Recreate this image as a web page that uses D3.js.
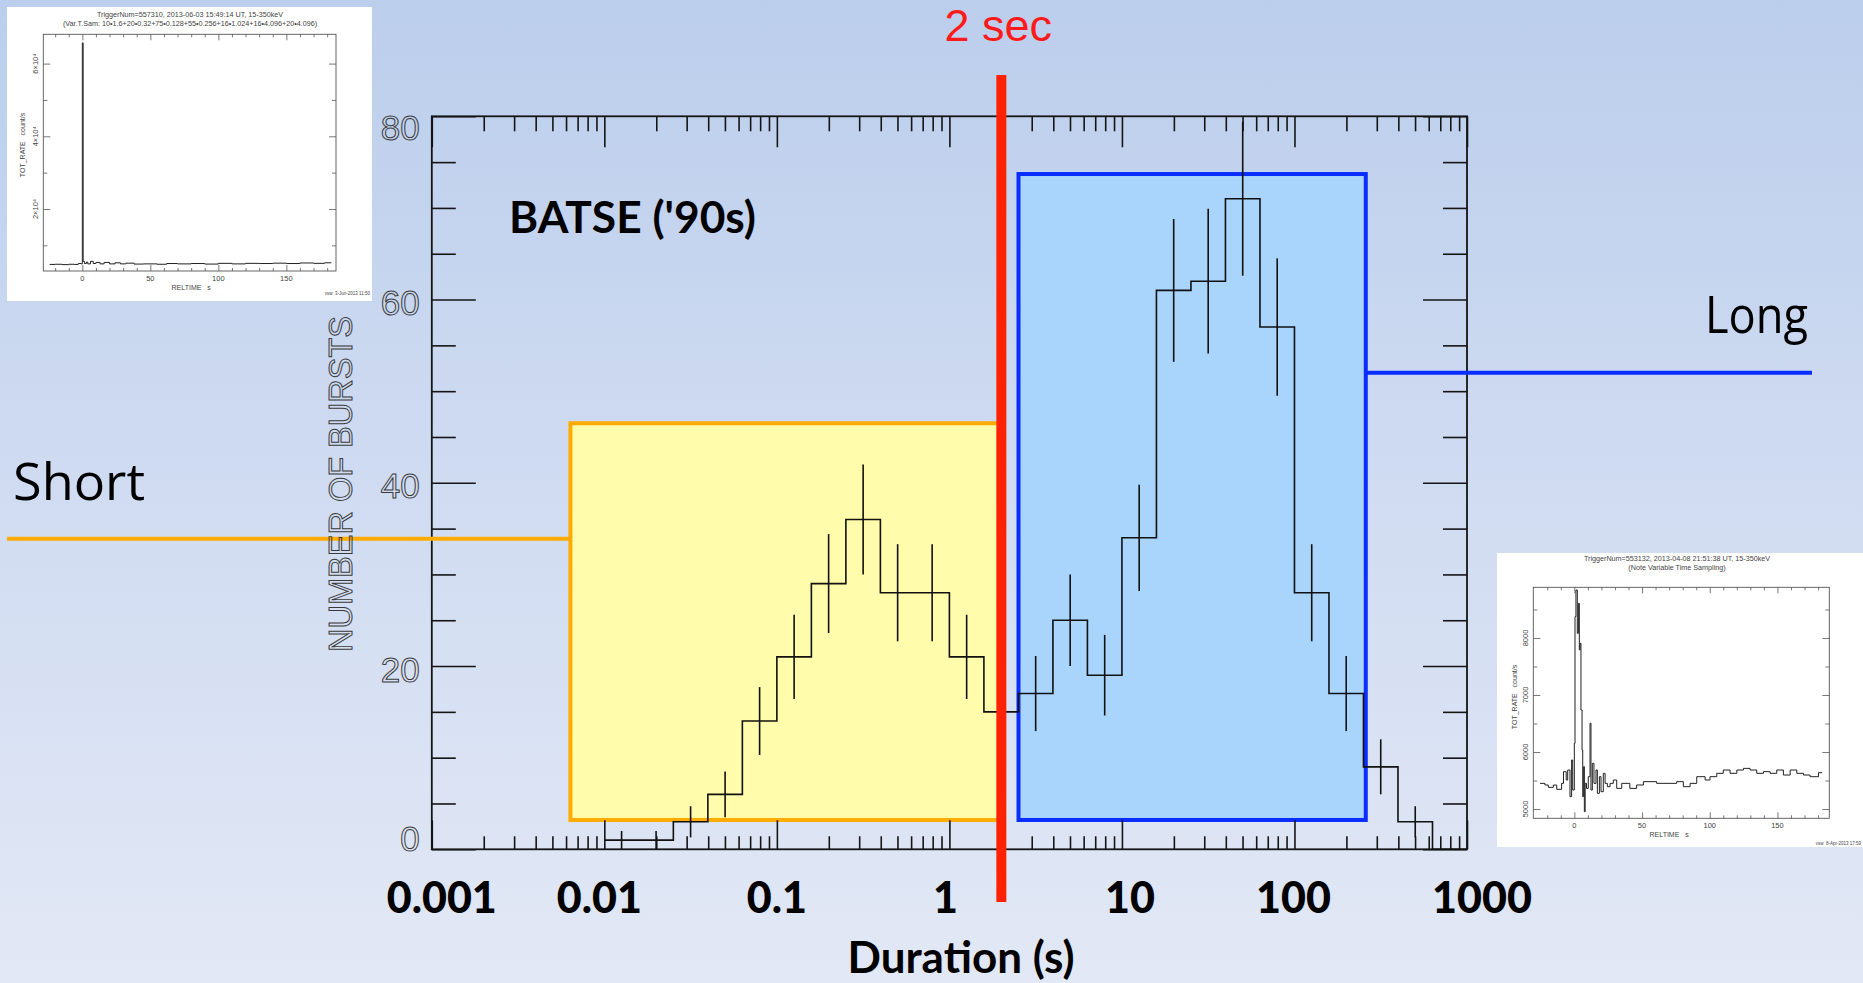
<!DOCTYPE html>
<html><head><meta charset="utf-8">
<script src="https://cdn.jsdelivr.net/npm/d3@7"></script>
<style>html,body{margin:0;padding:0;overflow:hidden;background:#d0dcf1}</style>
</head><body>
<svg id="c" width="1863" height="983"></svg>
<script>
// ================= DATA =================
// BATSE duration histogram: bins of 0.2 in log10(duration [s])
const binLeftLog = [-2.0,-1.8,-1.6,-1.4,-1.2,-1.0,-0.8,-0.6,-0.4,-0.2,0.0,0.2,0.4,0.6,0.8,1.0,1.2,1.4,1.6,1.8,2.0,2.2,2.4,2.6,2.8];
const burstCounts = [1,1,3,6,14,21,29,36,28,28,21,15,17,25,19,34,61,62,71,57,28,17,9,3,0];
const countErrors = [1,1,1.7,2.5,3.7,4.6,5.4,6,5.3,5.3,4.6,3.9,4.1,5,4.4,5.8,7.8,7.9,8.4,7.5,5.3,4.1,3,1.7,0];
const binWidthLog = 0.2;

const xTickValues = [0.001,0.01,0.1,1,10,100,1000];
const xTickLabels = ["0.001","0.01","0.1","1","10","100","1000"];
const yTickValues = [0,20,40,60,80];
const yTickLabels = ["0","20","40","60","80"];

const dividerSeconds = 2;
const shortRange = [0.00636, 2];      // seconds
const shortCountRange = [3.2, 46.5];
const shortLinkLevel = 33.9;
const longRange = [2.515, 259];
const longCountRange = [3.2, 73.7];
const longLinkLevel = 52.0;

// inset 1 light curve (short burst)
const inset1Time = [-24,-20,-15,-10,-6,-3,-1,0,0.6,1.5,3,4,6,8,10,13,16,20,24,28,32,38,45,55,62,70,80,90,100,110,120,130,140,150,160,170,178,183];
const inset1Rate = [4750,4800,4700,4800,4750,5000,4900,65700,5600,5000,5400,4900,5600,5000,5300,4900,5300,4900,5200,4900,5100,4850,4900,4800,5000,4900,5000,4850,5050,4900,5050,5000,5100,5000,5150,5050,5200,5150];
const inset1YMajor = [20000,40000,60000];
const inset1YLabels = ["2×10⁴","4×10⁴","6×10⁴"];
const inset1YMinor = [10000,30000,50000];

// inset 2 light curve (long burst)
const inset2Time = [-25.4,-21.7,-19.2,-15.5,-13,-9.4,-8,-6,-4.9,-3.2,-2,-1.2,0,0.5,1.2,2.2,3,3.7,4.2,4.9,5.7,6.2,6.9,7.4,8,9,10.3,11.6,12.3,13.3,14.5,16,17,18.5,19.7,21.4,22.7,24.4,26.4,28.8,31.3,35,41,46,51,60.8,70.7,75.6,80.5,85.5,90.4,96.6,100.2,105.2,110,115,120,124.9,129.8,134.7,139.7,144.6,149.5,154.4,159.4,164.3,169.2,174.1,180.3,183];
const inset2Rate = [5450,5421,5380,5420,5345,5450,5655,5509,5684,5216,5860,5333,6150,8374,8842,8082,8608,7790,7906,6737,6035,5216,5743,4953,5450,5362,5567,6503,5333,5801,5450,5684,5275,5567,5304,5626,5450,5392,5450,5509,5362,5450,5362,5421,5480,5450,5450,5480,5392,5450,5567,5509,5567,5626,5684,5626,5684,5713,5684,5626,5655,5626,5684,5596,5684,5626,5596,5567,5637,5637];
const inset2YMajor = [5000,6000,7000,8000];
const inset2YLabels = ["5000","6000","7000","8000"];
const inset2YMinor = [5500,6500,7500,8500];

const insetXMajor = [0,50,100,150];
const insetXLabels = ["0","50","100","150"];
const insetXMinor = [-20,-10,10,20,30,40,60,70,80,90,110,120,130,140,160,170,180];

// ================= LAYOUT =================
const W = 1863, H = 983;
const L = 431.8, R = 1467, T = 116.3, B = 849.3;
const xLabelNudge = [10,-5,0,-4,8,-1,15];   // hand-placed label offsets in the slide (px)

// ================= DRAWING =================
const svg = d3.select("#c");

const defs = svg.append("defs");
const grad = defs.append("linearGradient").attr("id","bg").attr("x1",0).attr("y1",0).attr("x2",0).attr("y2",1);
grad.append("stop").attr("offset","0%").attr("stop-color","#bbceec");
grad.append("stop").attr("offset","55%").attr("stop-color","#d2ddf2");
grad.append("stop").attr("offset","100%").attr("stop-color","#e2e8f5");
svg.append("rect").attr("width",W).attr("height",H).attr("fill","url(#bg)");

const x = d3.scaleLog().domain([0.001,1000]).range([L,R]);
const y = d3.scaleLinear().domain([0,80]).range([B,T]);

// ---- insets ----
function drawInset(o){
  const g = svg.append("g");
  g.append("rect").attr("x",o.box[0]).attr("y",o.box[1]).attr("width",o.box[2]-o.box[0]).attr("height",o.box[3]-o.box[1]).attr("fill","#ffffff");
  const fx = d3.scaleLinear().domain(o.xd).range([o.f[0],o.f[2]]);
  const fy = d3.scaleLinear().domain(o.yd).range([o.f[3],o.f[1]]);
  const tc = "#555";
  const ax = (gen, tr, vals, size) => g.append("g").attr("transform",tr)
      .call(gen.tickValues(vals).tickSize(size).tickSizeOuter(0).tickFormat(""))
      .call(s=>{s.select(".domain").remove(); s.selectAll("line").attr("stroke",tc).attr("stroke-width",0.8);});
  ax(d3.axisTop(fx), `translate(0,${o.f[3]})`, insetXMajor, 6);
  ax(d3.axisTop(fx), `translate(0,${o.f[3]})`, insetXMinor, 3);
  ax(d3.axisBottom(fx), `translate(0,${o.f[1]})`, insetXMajor, 6);
  ax(d3.axisBottom(fx), `translate(0,${o.f[1]})`, insetXMinor, 3);
  ax(d3.axisRight(fy), `translate(${o.f[0]},0)`, o.yMajor, 7);
  ax(d3.axisRight(fy), `translate(${o.f[0]},0)`, o.yMinor, 4);
  ax(d3.axisLeft(fy), `translate(${o.f[2]},0)`, o.yMajor, 7);
  ax(d3.axisLeft(fy), `translate(${o.f[2]},0)`, o.yMinor, 4);
  g.append("rect").attr("x",o.f[0]).attr("y",o.f[1]).attr("width",o.f[2]-o.f[0]).attr("height",o.f[3]-o.f[1])
    .attr("fill","none").attr("stroke",tc).attr("stroke-width",0.9);
  const line = d3.line().x((d,i)=>fx(o.t[i])).y((d,i)=>fy(o.r[i])).curve(d3.curveStepAfter);
  g.append("path").attr("d",line(o.t)).attr("fill","none").attr("stroke","#222").attr("stroke-width",1);
  const ft = "Liberation Sans, Arial, sans-serif";
  g.selectAll(null).data(insetXMajor).join("text").attr("x",d=>fx(d)).attr("y",o.f[3]+10)
    .attr("text-anchor","middle").attr("font-family",ft).attr("font-size",7.5).attr("fill","#444").text((d,i)=>insetXLabels[i]);
  g.append("text").attr("x",fx(o.relX)).attr("y",o.f[3]+19).attr("text-anchor","middle").attr("font-family",ft)
    .attr("font-size",7).attr("fill","#444").attr("xml:space","preserve").text("RELTIME   s");
  g.selectAll(null).data(o.yMajor).join("text").attr("transform",d=>`translate(${o.f[0]-5},${fy(d)}) rotate(-90)`)
    .attr("text-anchor","middle").attr("font-family",ft).attr("font-size",7.5).attr("fill","#444").text((d,i)=>o.yLabels[i]);
  g.append("text").attr("transform",`translate(${o.yTitleX},${o.yTitleY}) rotate(-90)`).attr("text-anchor","middle")
    .attr("font-family",ft).attr("font-size",7).attr("fill","#444").attr("xml:space","preserve").text("TOT_RATE   count/s");
  o.titles.forEach((t,i)=>{
    g.append("text").attr("x",o.titleX).attr("y",o.titleY[i]).attr("text-anchor","middle").attr("font-family",ft)
      .attr("font-size",7.2).attr("fill","#444").text(t);
  });
  g.append("text").attr("x",o.box[2]-2).attr("y",o.footY).attr("text-anchor","end").attr("font-family",ft)
    .attr("font-size",4.5).attr("fill","#444").attr("xml:space","preserve").text(o.foot);
}

drawInset({
  box:[7,7,372,301], f:[43.3,34.3,336,271], xd:[-28.7,186.5], yd:[2944,68060],
  t:inset1Time, r:inset1Rate, yMajor:inset1YMajor, yMinor:inset1YMinor, yLabels:inset1YLabels,
  relX:80, yTitleX:25, yTitleY:145, titleX:190, titleY:[16.5,26],
  titles:["TriggerNum=557310, 2013-06-03 15:49:14 UT, 15-350keV","(Var.T.Sam: 10•1.6+20•0.32+75•0.128+55•0.256+16•1.024+16•4.096+20•4.096)"],
  foot:"vsw  3-Jun-2013 11:50", footY:295
});
drawInset({
  box:[1497,553,1863,847], f:[1533.3,587.3,1829.3,818.3], xd:[-30.3,188.3], yd:[4837,8889],
  t:inset2Time, r:inset2Rate, yMajor:inset2YMajor, yMinor:inset2YMinor, yLabels:inset2YLabels,
  relX:70, yTitleX:1517, yTitleY:697, titleX:1677, titleY:[561,569.5],
  titles:["TriggerNum=553132, 2013-04-08 21:51:38 UT, 15-350keV","(Note Variable Time Sampling)"],
  foot:"vsw  8-Apr-2013 17:59", footY:845
});

// ---- category boxes ----
svg.append("rect").attr("x",x(shortRange[0])).attr("y",y(shortCountRange[1]))
  .attr("width",x(shortRange[1])-x(shortRange[0])).attr("height",y(shortCountRange[0])-y(shortCountRange[1]))
  .attr("fill","#fffcab").attr("stroke","#ffab00").attr("stroke-width",4);
svg.append("rect").attr("x",x(longRange[0])).attr("y",y(longCountRange[1]))
  .attr("width",x(longRange[1])-x(longRange[0])).attr("height",y(longCountRange[0])-y(longCountRange[1]))
  .attr("fill","#a9d4fc").attr("stroke","#0a2dff").attr("stroke-width",4);

// ---- axes ticks (inward) ----
const minorX = [];
for (let e=-3;e<3;e++) for (let k=2;k<=9;k++) minorX.push(k*Math.pow(10,e));
const majorY = yTickValues, minorY = d3.range(5,80,5).filter(v=>v%20!==0);
function ticks(gen, tr, vals, size){
  svg.append("g").attr("transform",tr)
    .call(gen.tickValues(vals).tickSize(size).tickSizeOuter(0).tickFormat(""))
    .call(s=>{s.select(".domain").remove(); s.selectAll("line").attr("stroke","#151515").attr("stroke-width",1.6);});
}
ticks(d3.axisTop(x), `translate(0,${B})`, xTickValues, 29);
ticks(d3.axisTop(x), `translate(0,${B})`, minorX, 13);
ticks(d3.axisBottom(x), `translate(0,${T})`, xTickValues, 31);
ticks(d3.axisBottom(x), `translate(0,${T})`, minorX, 15);
ticks(d3.axisRight(y), `translate(${L},0)`, majorY, 44);
ticks(d3.axisRight(y), `translate(${L},0)`, minorY, 24);
ticks(d3.axisLeft(y), `translate(${R},0)`, majorY, 44);
ticks(d3.axisLeft(y), `translate(${R},0)`, minorY, 24);

svg.append("rect").attr("x",L).attr("y",T).attr("width",R-L).attr("height",B-T)
  .attr("fill","none").attr("stroke","#151515").attr("stroke-width",1.8);

// ---- histogram ----
const stepPts = binLeftLog.map((lg,i)=>[Math.pow(10,lg), burstCounts[i]]);
stepPts.push([Math.pow(10, binLeftLog[binLeftLog.length-1]+binWidthLog), burstCounts[burstCounts.length-1]]);
const stepLine = d3.line().x(d=>x(d[0])).y(d=>y(d[1])).curve(d3.curveStepAfter);
svg.append("path").attr("d",stepLine(stepPts)).attr("fill","none").attr("stroke","#111").attr("stroke-width",1.6);
svg.append("g").selectAll("line").data(binLeftLog.map((lg,i)=>({c:Math.pow(10,lg+binWidthLog/2), v:burstCounts[i], e:countErrors[i]})).filter(d=>d.e>0))
  .join("line").attr("x1",d=>x(d.c)).attr("x2",d=>x(d.c)).attr("y1",d=>y(Math.max(0,d.v-d.e))).attr("y2",d=>y(d.v+d.e))
  .attr("stroke","#111").attr("stroke-width",1.6);

// ---- connector lines ----
svg.append("line").attr("x1",7).attr("x2",x(shortRange[0])).attr("y1",y(shortLinkLevel)).attr("y2",y(shortLinkLevel))
  .attr("stroke","#ffab00").attr("stroke-width",4);
svg.append("line").attr("x1",x(longRange[1])).attr("x2",1812).attr("y1",y(longLinkLevel)).attr("y2",y(longLinkLevel))
  .attr("stroke","#0a2dff").attr("stroke-width",4);

// ---- y tick labels (outlined vector style) ----
const outFont = "Liberation Sans, Arial, sans-serif";
svg.selectAll(null).data(yTickValues).join("text")
  .attr("x",L-12).attr("y",d=>Math.min(Math.max(y(d)+3, T+11.5), B-10.5))
  .attr("dominant-baseline","central").attr("text-anchor","end")
  .attr("font-family",outFont).attr("font-size",35).attr("fill","none").attr("stroke","#3a3a3a").attr("stroke-width",1)
  .text((d,i)=>yTickLabels[i]);
svg.append("text").attr("transform",`translate(352,484) rotate(-90)`)
  .attr("text-anchor","middle").attr("font-family",outFont).attr("font-size",34)
  .attr("textLength",336).attr("lengthAdjust","spacingAndGlyphs")
  .attr("fill","none").attr("stroke","#3a3a3a").attr("stroke-width",1).text("NUMBER OF BURSTS");

// ---- 2 sec divider ----
svg.append("line").attr("x1",x(dividerSeconds)).attr("x2",x(dividerSeconds)).attr("y1",75).attr("y2",902)
  .attr("stroke","#ff2200").attr("stroke-width",10);
svg.append("text").attr("x",x(dividerSeconds)-3).attr("y",41).attr("text-anchor","middle")
  .attr("font-family","Liberation Sans, Arial, sans-serif").attr("font-size",45).attr("fill","#ff1a1a").text("2 sec");

// ---- bold labels ----
const boldFont = "Lato, 'Open Sans', sans-serif";
svg.selectAll(null).data(xTickValues).join("text").attr("x",(d,i)=>x(d)+xLabelNudge[i]).attr("y",913)
  .attr("text-anchor","middle").attr("font-family",boldFont).attr("font-weight",900).attr("font-size",43)
  .attr("fill","#000").text((d,i)=>xTickLabels[i]);
svg.append("text").attr("x",961).attr("y",973).attr("text-anchor","middle").attr("font-family",boldFont)
  .attr("font-weight",700).attr("font-size",44).attr("fill","#000").text("Duration (s)");
svg.append("text").attr("x",509).attr("y",233).attr("font-family",boldFont)
  .attr("font-weight",700).attr("font-size",43).attr("textLength",247).attr("lengthAdjust","spacingAndGlyphs")
  .attr("fill","#000").text("BATSE ('90s)");

// ---- Short / Long ----
const handFont = "'Comic Sans MS', 'Open Sans', sans-serif";
svg.append("text").attr("x",13).attr("y",500).attr("font-family",handFont).attr("font-size",52)
  .attr("textLength",132).attr("lengthAdjust","spacingAndGlyphs").attr("fill","#000").text("Short");
svg.append("text").attr("x",1705).attr("y",333).attr("font-family",handFont).attr("font-size",52)
  .attr("textLength",103).attr("lengthAdjust","spacingAndGlyphs").attr("fill","#000").text("Long");
</script>
</body></html>
